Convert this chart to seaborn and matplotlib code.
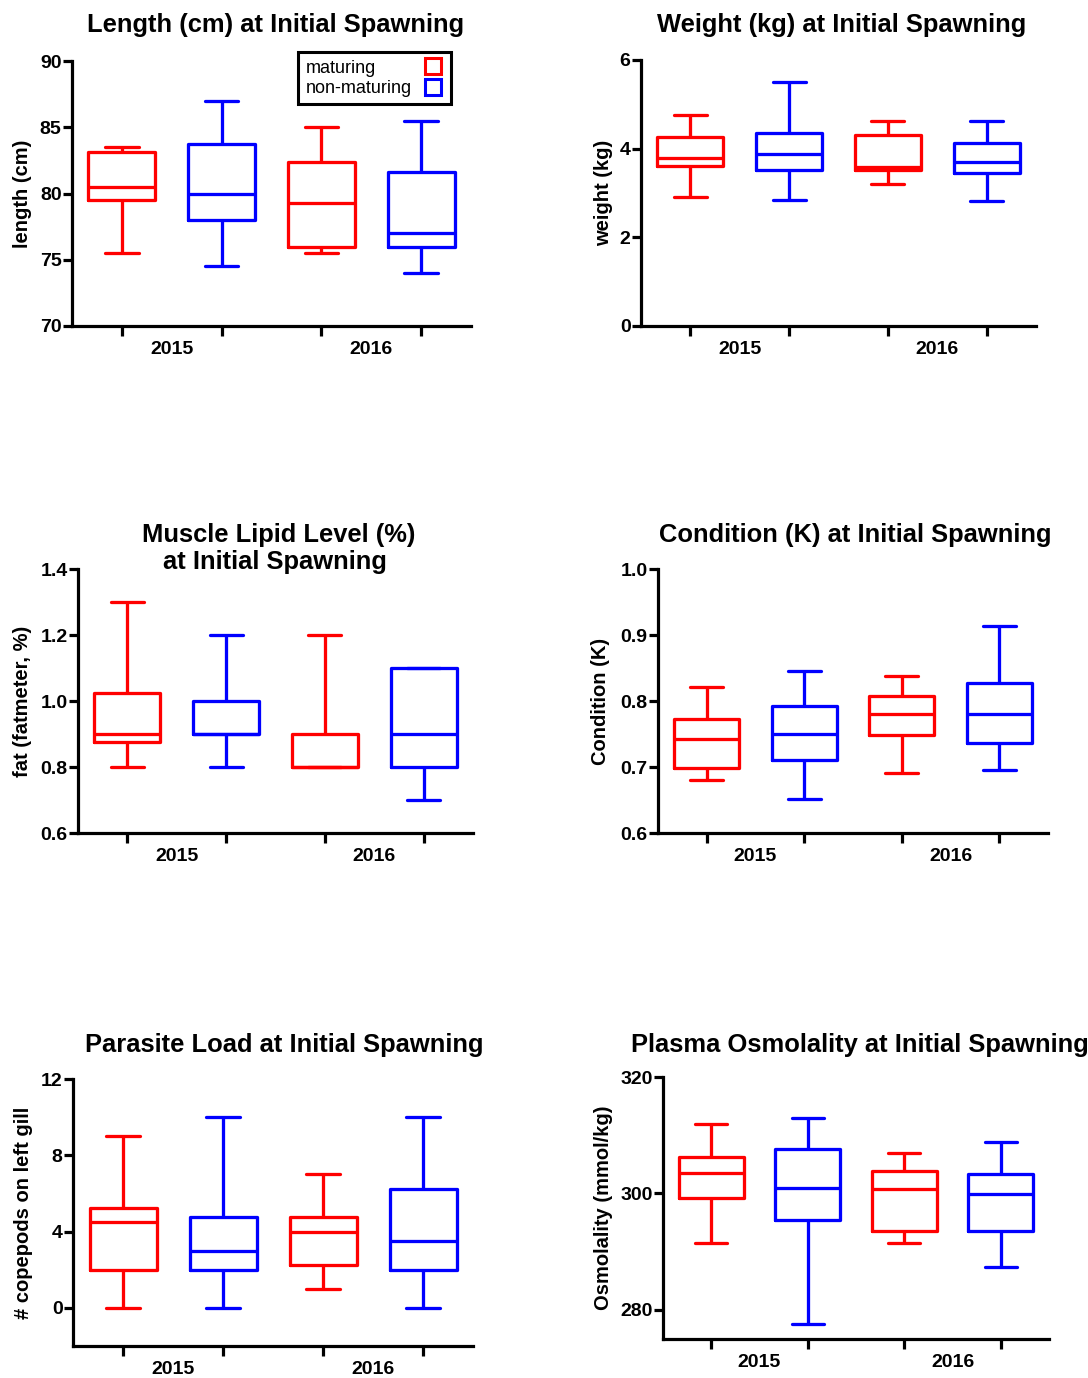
import numpy as np
import pandas as pd
import matplotlib
matplotlib.use("Agg")
import matplotlib.pyplot as plt
from matplotlib.lines import Line2D
import seaborn as sns

# ---------------- data: five-number summaries [min, q1, median, q3, max]; order 2015, 2016
years = ["2015", "2016"]
groups = ["maturing", "non-maturing"]
palette = {"maturing": "#ff0000", "non-maturing": "#0000ff"}

length_maturing = [[75.5, 79.5, 80.5, 83.1, 83.5], [75.5, 76.0, 79.25, 82.4, 85.0]]
length_nonmaturing = [[74.5, 78.0, 80.0, 83.75, 87.0], [74.0, 76.0, 77.0, 81.6, 85.5]]

weight_maturing = [[2.92, 3.62, 3.79, 4.27, 4.75], [3.20, 3.52, 3.58, 4.30, 4.62]]
weight_nonmaturing = [[2.84, 3.53, 3.87, 4.36, 5.50], [2.81, 3.46, 3.71, 4.13, 4.62]]

fat_maturing = [[0.80, 0.875, 0.90, 1.025, 1.30], [0.80, 0.80, 0.80, 0.90, 1.20]]
fat_nonmaturing = [[0.80, 0.90, 0.90, 1.00, 1.20], [0.70, 0.80, 0.90, 1.10, 1.10]]

condition_maturing = [[0.681, 0.699, 0.742, 0.773, 0.821], [0.691, 0.749, 0.780, 0.808, 0.838]]
condition_nonmaturing = [[0.652, 0.710, 0.750, 0.793, 0.846], [0.696, 0.737, 0.780, 0.828, 0.913]]

parasite_maturing = [[0, 2.0, 4.5, 5.25, 9], [1, 2.25, 4.0, 4.75, 7]]
parasite_nonmaturing = [[0, 2.0, 3.0, 4.75, 10], [0, 2.0, 3.5, 6.25, 10]]

osmo_maturing = [[291.5, 299.25, 303.5, 306.25, 312.0], [291.5, 293.6, 300.75, 303.9, 306.9]]
osmo_nonmaturing = [[277.6, 295.4, 301.0, 307.6, 313.0], [287.4, 293.5, 299.9, 303.3, 308.9]]

titles = [
    "Length (cm) at Initial Spawning",
    "Weight (kg) at Initial Spawning",
    "Muscle Lipid Level (%)\nat Initial Spawning",
    "Condition (K) at Initial Spawning",
    "Parasite Load at Initial Spawning",
    "Plasma Osmolality at Initial Spawning",
]
ylabels = ["length (cm)", "weight (kg)", "fat (fatmeter, %)", "Condition (K)",
           "# copepods on left gill", "Osmolality (mmol/kg)"]
yticks = [[70, 75, 80, 85, 90], [0, 2, 4, 6], [0.6, 0.8, 1.0, 1.2, 1.4],
          [0.6, 0.7, 0.8, 0.9, 1.0], [0, 4, 8, 12], [280, 300, 320]]
yticklabels = [["70", "75", "80", "85", "90"], ["0", "2", "4", "6"],
               ["0.6", "0.8", "1.0", "1.2", "1.4"], ["0.6", "0.7", "0.8", "0.9", "1.0"],
               ["0", "4", "8", "12"], ["280", "300", "320"]]
ylims = [(70, 90), (0, 6), (0.6, 1.4), (0.6, 1.0), (-2, 12), (275, 320)]
datasets = [(length_maturing, length_nonmaturing), (weight_maturing, weight_nonmaturing),
            (fat_maturing, fat_nonmaturing), (condition_maturing, condition_nonmaturing),
            (parasite_maturing, parasite_nonmaturing), (osmo_maturing, osmo_nonmaturing)]

# ---------------- layout (pixels)
W, H = 1088, 1378
axes_px = [  # left, right, top, bottom
    (72, 471, 61, 326),
    (641, 1036, 60, 326),
    (78, 473, 569, 833),
    (658, 1048, 569, 833),
    (73, 473, 1079, 1346),
    (663, 1049, 1077, 1339),
]
title_px = [(275.7, 31.7), (842, 31.7), (277, 569.3), (855, 541.7), (284, 1051.7), (860, 1051.7)]
ylabel_x = [-0.10, -0.071, -0.116, -0.123, -0.10, -0.13]

sns.set_style("ticks")
plt.rcParams["font.family"] = ["Liberation Sans", "DejaVu Sans"]
plt.rcParams["font.weight"] = "bold"
for key in ("text.color", "axes.labelcolor", "xtick.color", "ytick.color", "axes.edgecolor"):
    plt.rcParams[key] = "black"

fig = plt.figure(figsize=(W / 100, H / 100), dpi=100)

LW = 2.35
leg = None
for i, (mat, non) in enumerate(datasets):
    l, r, t, b = axes_px[i]
    ax = fig.add_axes([l / W, 1 - b / H, (r - l) / W, (b - t) / H])
    rows = []
    for g, series in zip(groups, (mat, non)):
        for y, vals in zip(years, series):
            for v in vals:
                rows.append({"year": y, "group": g, "value": v})
    df = pd.DataFrame(rows)
    sns.boxplot(data=df, x="year", y="value", hue="group", order=years, hue_order=groups,
                palette=palette, fill=False, width=1.0, gap=0.33, whis=(0, 100),
                linewidth=LW, showfliers=False, legend=False, ax=ax)
    ax.set_xlim(-0.5, 1.5)
    ax.set_ylim(*ylims[i])
    ax.set_yticks(yticks[i])
    ax.set_yticklabels(yticklabels[i], fontsize=14, fontweight="bold", color="black")
    ax.set_xticks([0, 1])
    ax.set_xticklabels(years, fontsize=14, fontweight="bold", color="black")
    ax.set_xticks([-0.25, 0.25, 0.75, 1.25], minor=True)
    ax.tick_params(axis="x", which="major", length=0, pad=11)
    ax.tick_params(axis="x", which="minor", length=7.5, width=2.3, direction="out", color="black")
    ax.tick_params(axis="y", which="major", length=6.5, width=2.3, pad=1, direction="out", color="black")
    ax.set_xlabel("")
    ax.set_ylabel(ylabels[i], fontsize=14.5, fontweight="bold", color="black")
    ax.yaxis.set_label_coords(ylabel_x[i], 0.5)
    for s in ("top", "right"):
        ax.spines[s].set_visible(False)
    for s in ("left", "bottom"):
        ax.spines[s].set_linewidth(2.3)
        ax.spines[s].set_color("black")
    tx, ty = title_px[i]
    if "\n" in titles[i]:
        l1, l2 = titles[i].split("\n")
        fig.text(278.7 / W, 1 - 541.7 / H, l1, ha="center", va="baseline",
                 fontsize=18.4, fontweight="bold", color="black")
        fig.text(275 / W, 1 - 569.3 / H, l2, ha="center", va="baseline",
                 fontsize=18.4, fontweight="bold", color="black")
    else:
        fig.text(tx / W, 1 - ty / H, titles[i], ha="center", va="baseline",
                 fontsize=18.4, fontweight="bold", color="black")
    if i == 0:
        handles = [Line2D([], [], linestyle="none", marker="s", markersize=11,
                          markerfacecolor="white", markeredgecolor=palette[g],
                          markeredgewidth=2.2) for g in groups]
        leg = ax.legend(handles, groups, loc="upper right",
                        bbox_to_anchor=((451 - l) / (r - l), (b - 52) / (b - t)),
                        markerfirst=False, frameon=True, fancybox=False,
                        framealpha=1, borderaxespad=0, borderpad=0.42,
                        handlelength=1.2, handletextpad=0.55, labelspacing=0.18,
                        prop={"size": 13, "weight": "normal"})
        leg.get_frame().set_edgecolor("black")
        leg.get_frame().set_linewidth(2.2)
        for txt in leg.get_texts():
            txt.set_color("black")

# left-align the legend labels while keeping markers in a right column
fig.canvas.draw()
renderer = fig.canvas.get_renderer()
texts = leg.get_texts()
widths = [tx.get_window_extent(renderer).width for tx in texts]
wmax = max(widths)
column = leg._legend_handle_box.get_children()[0]
for item, w in zip(column.get_children(), widths):
    item.sep = item.sep + (wmax - w) * 72.0 / fig.dpi

fig.savefig("out.png", dpi=100)
